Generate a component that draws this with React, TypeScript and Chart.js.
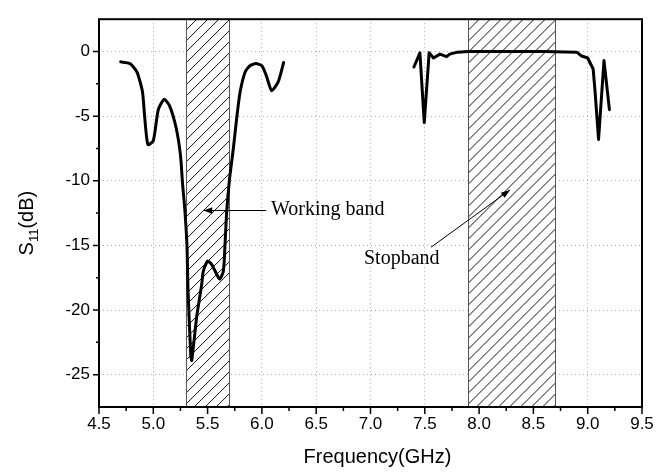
import React, { useEffect, useRef } from 'react';
import { Chart, registerables } from 'chart.js';
Chart.register(...registerables);

// ---- data ----
const lowFreq = [4.70, 4.785, 4.85, 4.90, 4.92, 4.95, 5.00, 5.046, 5.10, 5.15, 5.21, 5.25, 5.27, 5.29, 5.31, 5.32, 5.345, 5.354, 5.40, 5.446, 5.46, 5.50, 5.54, 5.61, 5.645, 5.66, 5.675, 5.70, 5.737, 5.77, 5.80, 5.845, 5.89, 5.945, 6.00, 6.04, 6.09, 6.15, 6.20];
const lowS11 = [-0.8, -0.93, -1.6, -3.1, -5.0, -7.2, -6.9, -4.5, -3.7, -4.2, -5.9, -8.0, -10.3, -12.2, -15.0, -18.5, -23.5, -23.9, -20.5, -18.0, -17.0, -16.2, -16.5, -17.6, -17.0, -15.0, -12.5, -10.0, -7.5, -5.0, -3.1, -1.6, -1.1, -0.93, -1.1, -1.85, -3.03, -2.35, -0.85];

const highFreq = [7.40, 7.455, 7.495, 7.54, 7.58, 7.64, 7.70, 7.73, 7.80, 7.90, 8.00, 8.10, 8.20, 8.30, 8.40, 8.50, 8.60, 8.70, 8.80, 8.90, 8.944, 9.00, 9.05, 9.067, 9.10, 9.15, 9.20];
const highS11 = [-1.2, -0.1, -5.5, -0.1, -0.5, -0.2, -0.4, -0.2, -0.05, 0, 0, 0, 0, 0, 0, 0, 0, -0.02, -0.03, -0.05, -0.35, -0.5, -1.35, -3.0, -6.8, -0.7, -4.5];

const xTickValues = [4.5, 5.0, 5.5, 6.0, 6.5, 7.0, 7.5, 8.0, 8.5, 9.0, 9.5];
const xMinorValues = [4.75, 5.25, 5.75, 6.25, 6.75, 7.25, 7.75, 8.25, 8.75, 9.25];
const yTickValues = [0, -5, -10, -15, -20, -25];
const yMinorValues = [-2.5, -7.5, -12.5, -17.5, -22.5];

const bandStart = [5.3, 7.9];
const bandEnd = [5.7, 8.7];

const xTitle = 'Frequency(GHz)';
const yTitleMain = 'S';
const yTitleSub = '11';
const yTitleTail = '(dB)';

const workingLabel = 'Working band';
const stopLabel = 'Stopband';

const SANS = '"Liberation Sans", Arial, sans-serif';
const SERIF = '"Liberation Serif", "Times New Roman", serif';

function arrow(ctx: CanvasRenderingContext2D, x0: number, y0: number, x1: number, y1: number) {
  ctx.beginPath();
  ctx.moveTo(x0, y0);
  ctx.lineTo(x1, y1);
  ctx.stroke();
  const ang = Math.atan2(y1 - y0, x1 - x0);
  const L = 9, W = 3.2;
  ctx.beginPath();
  ctx.moveTo(x1, y1);
  ctx.lineTo(x1 - L * Math.cos(ang) + W * Math.sin(ang), y1 - L * Math.sin(ang) - W * Math.cos(ang));
  ctx.lineTo(x1 - L * Math.cos(ang) - W * Math.sin(ang), y1 - L * Math.sin(ang) + W * Math.cos(ang));
  ctx.closePath();
  ctx.fill();
}

const decorPlugin = {
  id: 'decor',
  beforeDatasetsDraw(chart: any) {
    const { ctx, chartArea: a, scales } = chart;
    const x = scales.x;
    ctx.save();
    for (let i = 0; i < bandStart.length; i++) {
      const x0 = x.getPixelForValue(bandStart[i]);
      const x1 = x.getPixelForValue(bandEnd[i]);
      const h = a.bottom - a.top;
      ctx.fillStyle = '#fff';
      ctx.fillRect(x0, a.top, x1 - x0, h);
      ctx.save();
      ctx.beginPath();
      ctx.rect(x0, a.top, x1 - x0, h);
      ctx.clip();
      ctx.strokeStyle = '#111';
      ctx.lineWidth = 1;
      ctx.beginPath();
      for (let k = x0 - h; k < x1 + 2; k += 11) {
        ctx.moveTo(k, a.bottom);
        ctx.lineTo(k + h, a.top);
      }
      ctx.stroke();
      ctx.restore();
      ctx.strokeStyle = '#555';
      ctx.lineWidth = 1;
      ctx.beginPath();
      ctx.moveTo(Math.round(x0) + 0.5, a.top);
      ctx.lineTo(Math.round(x0) + 0.5, a.bottom);
      ctx.moveTo(Math.round(x1) + 0.5, a.top);
      ctx.lineTo(Math.round(x1) + 0.5, a.bottom);
      ctx.stroke();
    }
    ctx.restore();
  },
  afterDraw(chart: any) {
    const { ctx, chartArea: a, scales } = chart;
    const x = scales.x, y = scales.y;
    ctx.save();
    // box
    ctx.strokeStyle = '#000';
    ctx.lineWidth = 2;
    ctx.strokeRect(a.left, a.top, a.right - a.left, a.bottom - a.top);
    // ticks
    ctx.lineWidth = 1.5;
    ctx.beginPath();
    xTickValues.forEach(v => { const p = x.getPixelForValue(v); ctx.moveTo(p, a.bottom); ctx.lineTo(p, a.bottom + 7); });
    xMinorValues.forEach(v => { const p = x.getPixelForValue(v); ctx.moveTo(p, a.bottom); ctx.lineTo(p, a.bottom + 4); });
    yTickValues.forEach(v => { const p = y.getPixelForValue(v); ctx.moveTo(a.left - 6, p); ctx.lineTo(a.left, p); });
    yMinorValues.forEach(v => { const p = y.getPixelForValue(v); ctx.moveTo(a.left - 3, p); ctx.lineTo(a.left, p); });
    ctx.stroke();

    // axis titles
    ctx.fillStyle = '#000';
    ctx.font = `20px ${SANS}`;
    ctx.textAlign = 'center';
    ctx.textBaseline = 'alphabetic';
    ctx.fillText(xTitle, (a.left + a.right) / 2 + 7, 463);

    ctx.save();
    ctx.translate(33, (a.top + a.bottom) / 2 + 10);
    ctx.rotate(-Math.PI / 2);
    ctx.font = `20px ${SANS}`;
    const wS = ctx.measureText(yTitleMain).width;
    const wT = ctx.measureText(yTitleTail).width;
    ctx.font = `13px ${SANS}`;
    const wSub = ctx.measureText(yTitleSub).width;
    let cx = -(wS + wSub + wT) / 2;
    ctx.textAlign = 'left';
    ctx.font = `20px ${SANS}`;
    ctx.fillText(yTitleMain, cx, 0);
    cx += wS;
    ctx.font = `13px ${SANS}`;
    ctx.fillText(yTitleSub, cx, 5);
    cx += wSub;
    ctx.font = `20px ${SANS}`;
    ctx.fillText(yTitleTail, cx, 0);
    ctx.restore();

    // annotations
    ctx.font = `20px ${SERIF}`;
    ctx.textAlign = 'left';
    ctx.fillText(workingLabel, x.getPixelForValue(6.084), y.getPixelForValue(-12.67));
    ctx.fillText(stopLabel, x.getPixelForValue(6.94), y.getPixelForValue(-16.4));
    ctx.lineWidth = 1;
    ctx.strokeStyle = '#000';
    arrow(ctx, x.getPixelForValue(6.04), y.getPixelForValue(-12.3), x.getPixelForValue(5.46), y.getPixelForValue(-12.3));
    arrow(ctx, x.getPixelForValue(7.557), y.getPixelForValue(-15.14), x.getPixelForValue(8.285), y.getPixelForValue(-10.71));
    ctx.restore();
  },
};

export default function App() {
  const ref = useRef<HTMLCanvasElement>(null);
  useEffect(() => {
    document.body.style.margin = '0';
    const canvas = ref.current!;
    const chart = new Chart(canvas, {
      type: 'scatter',
      data: {
        datasets: [
          {
            data: lowFreq.map((f, i) => ({ x: f, y: lowS11[i] })),
            showLine: true,
            borderColor: '#000',
            borderWidth: 3,
            pointRadius: 0,
            tension: 0.2,
            borderJoinStyle: 'round',
            borderCapStyle: 'round',
          },
          {
            data: highFreq.map((f, i) => ({ x: f, y: highS11[i] })),
            showLine: true,
            borderColor: '#000',
            borderWidth: 3,
            pointRadius: 0,
            tension: 0,
            borderJoinStyle: 'round',
            borderCapStyle: 'round',
          },
        ],
      },
      options: {
        responsive: false,
        animation: false,
        layout: { padding: { top: 7, right: 30, left: 0, bottom: 0 } },
        plugins: { legend: { display: false }, tooltip: { enabled: false }, title: { display: false } },
        scales: {
          x: {
            type: 'linear',
            min: 4.5,
            max: 9.5,
            afterBuildTicks: (s: any) => { s.ticks = xTickValues.map(v => ({ value: v })); },
            afterFit: (s: any) => { s.height = 68; },
            ticks: {
              padding: 7,
              color: '#000',
              font: { family: SANS, size: 17 },
              callback: (v: any) => Number(v).toFixed(1),
              maxRotation: 0,
              autoSkip: false,
            },
            grid: { color: '#b0b0b0', lineWidth: 1, drawTicks: false },
            border: { display: false, dash: [1, 3] },
          },
          y: {
            type: 'linear',
            min: -27.5,
            max: 2.5,
            afterBuildTicks: (s: any) => { s.ticks = yTickValues.map(v => ({ value: v })); },
            afterFit: (s: any) => { s.width = 99; },
            ticks: {
              padding: 9,
              color: '#000',
              font: { family: SANS, size: 17 },
              callback: (v: any) => String(v),
              autoSkip: false,
            },
            grid: { color: '#b0b0b0', lineWidth: 1, drawTicks: false },
            border: { display: false, dash: [1, 3] },
          },
        },
      },
      plugins: [decorPlugin],
    });
    return () => chart.destroy();
  }, []);
  return <canvas ref={ref} width={672} height={475} style={{ display: 'block' }} />;
}
